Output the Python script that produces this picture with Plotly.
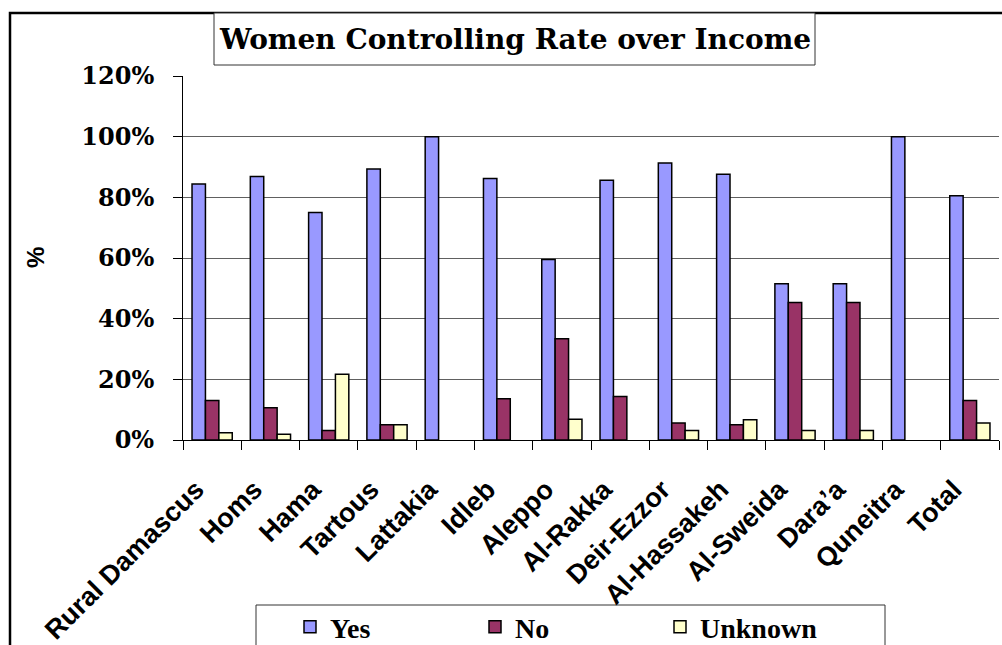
import plotly.graph_objects as go

categories = ["Rural Damascus", "Homs", "Hama", "Tartous", "Lattakia", "Idleb", "Aleppo",
              "Al-Rakka", "Deir-Ezzor", "Al-Hassakeh", "Al-Sweida", "Dara\u2019a", "Quneitra", "Total"]
yes_vals = [0.844, 0.869, 0.750, 0.893, 1.000, 0.862, 0.595, 0.856, 0.913, 0.876, 0.515, 0.515, 1.000, 0.805]
no_vals = [0.130, 0.106, 0.031, 0.050, None, 0.136, 0.334, 0.143, 0.056, 0.050, 0.453, 0.453, None, 0.130]
unknown_vals = [0.024, 0.019, 0.217, 0.050, None, None, 0.068, None, 0.031, 0.067, 0.031, 0.031, None, 0.056]
series_names = ["Yes", "No", "Unknown"]
series_colors = ["#9999FF", "#993366", "#FFFFCC"]
y_ticks = [0, 0.2, 0.4, 0.6, 0.8, 1.0, 1.2]
y_ticklabels = ["0%", "20%", "40%", "60%", "80%", "100%", "120%"]
title_text = "Women Controlling Rate over Income"
y_title = "%"

fig = go.Figure()
for name, vals, col in zip(series_names, [yes_vals, no_vals, unknown_vals], series_colors):
    fig.add_trace(go.Bar(
        x=categories, y=vals, name=name,
        marker=dict(color=col, line=dict(color="black", width=1.5)),
    ))

W, H = 1002, 645
L, R, T, B = 183, 3, 76, 205
pw = W - L - R
ph = H - T - B

def px_x(x):
    return (x - L) / pw

def px_y(y):
    return (H - B - y) / ph

fig.update_layout(
    width=W, height=H,
    margin=dict(l=L, r=R, t=T, b=B, autoexpand=False),
    paper_bgcolor="white", plot_bgcolor="white",
    barmode="group", bargap=0.31, bargroupgap=0,
    showlegend=True,
    legend=dict(
        orientation="h",
        x=px_x(290), xanchor="left",
        y=px_y(602), yanchor="top",
        borderwidth=0,
        bgcolor="rgba(0,0,0,0)",
        font=dict(family="Liberation Serif", size=28, color="black", weight="bold"),
        entrywidth=140, entrywidthmode="pixels",
    ),
    xaxis=dict(
        type="category",
        tickangle=-45,
        tickfont=dict(family="Liberation Sans", size=27, color="black", weight="bold"),
        showline=True, linecolor="black", linewidth=1,
        ticks="outside", ticklen=9, tickcolor="black", tickson="boundaries",
        ticklabelstandoff=22, ticklabelshift=-16,
        showgrid=False, fixedrange=True,
    ),
    yaxis=dict(
        range=[0, 1.2],
        tickvals=y_ticks, ticktext=y_ticklabels,
        tickfont=dict(family="DejaVu Serif", size=24, color="black", weight="bold"),
        showline=True, linecolor="black", linewidth=1,
        ticks="outside", ticklen=9, tickcolor="black",
        ticklabelstandoff=14,
        showgrid=True, gridcolor="#606060", gridwidth=1,
        zeroline=False, fixedrange=True,
    ),
    shapes=[
        # outer chart frame
        dict(type="rect", xref="paper", yref="paper",
             x0=px_x(10), x1=px_x(1010), y0=px_y(660), y1=px_y(13),
             line=dict(color="black", width=2.5), fillcolor="rgba(0,0,0,0)", layer="above"),
        # title box
        dict(type="rect", xref="paper", yref="paper",
             x0=px_x(214), x1=px_x(815), y0=px_y(65), y1=px_y(13),
             line=dict(color="#333333", width=1), fillcolor="white", layer="above"),
        # legend box
        dict(type="rect", xref="paper", yref="paper",
             x0=px_x(256), x1=px_x(885), y0=px_y(660), y1=px_y(605),
             line=dict(color="#333333", width=1), fillcolor="white", layer="below"),
    ],
    annotations=[
        dict(text=title_text, xref="paper", yref="paper",
             x=px_x(514.5), y=px_y(40), xanchor="center", yanchor="middle",
             showarrow=False,
             font=dict(family="DejaVu Serif", size=28, color="black", weight="bold")),
        dict(text=y_title, xref="paper", yref="paper",
             x=px_x(35), y=px_y(258), xanchor="center", yanchor="middle",
             textangle=-90, showarrow=False,
             font=dict(family="Liberation Sans", size=24, color="black", weight="bold")),
    ],
)

fig.write_html("out.html", config={"displayModeBar": False},
               post_script="document.body.style.margin='0';")
